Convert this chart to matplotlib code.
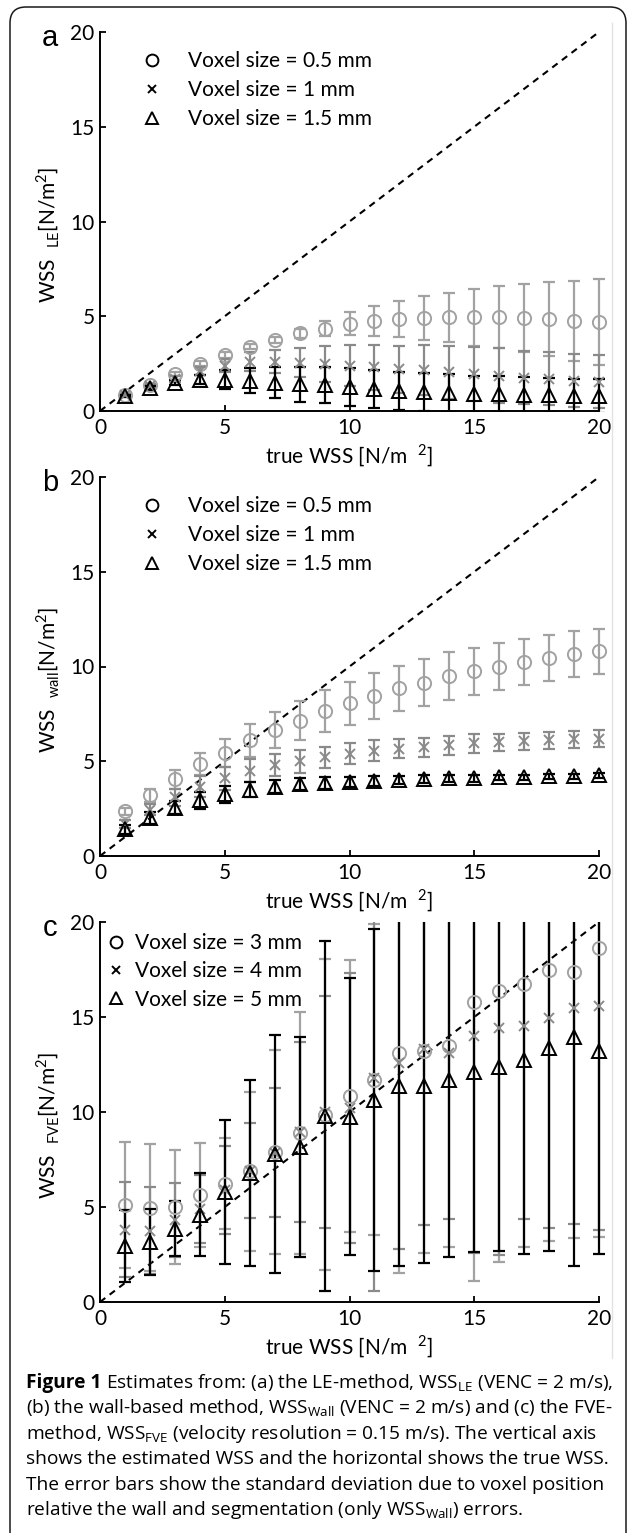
import matplotlib
matplotlib.use("Agg")
import matplotlib.pyplot as plt
from matplotlib.lines import Line2D
from matplotlib.patches import FancyBboxPatch, Rectangle
from matplotlib.transforms import IdentityTransform
import numpy as np

# ---------------- data ----------------
true_wss = list(range(1, 21))

# panel a: LE method
a_05 = [0.85, 1.35, 1.95, 2.5, 2.95, 3.4, 3.75, 4.1, 4.35, 4.6, 4.75, 4.85, 4.9, 4.95, 4.95, 4.95, 4.9, 4.85, 4.75, 4.7]
a_05_err = [0.1, 0.1, 0.1, 0.12, 0.15, 0.15, 0.18, 0.25, 0.4, 0.6, 0.8, 0.95, 1.15, 1.3, 1.5, 1.65, 1.8, 1.95, 2.1, 2.25]
a_10 = [0.85, 1.3, 1.7, 2.1, 2.4, 2.6, 2.6, 2.55, 2.5, 2.4, 2.3, 2.2, 2.15, 2.05, 1.95, 1.85, 1.75, 1.7, 1.6, 1.55]
a_10_err = [0.05, 0.1, 0.15, 0.2, 0.35, 0.5, 0.6, 0.75, 0.95, 1.07, 1.17, 1.25, 1.32, 1.4, 1.43, 1.45, 1.4, 1.4, 1.4, 1.4]
a_15 = [0.8, 1.2, 1.5, 1.65, 1.65, 1.6, 1.5, 1.4, 1.35, 1.25, 1.15, 1.05, 1.0, 0.95, 0.9, 0.9, 0.85, 0.85, 0.8, 0.8]
a_15_err = [0.05, 0.1, 0.15, 0.25, 0.5, 0.65, 0.8, 0.9, 0.95, 1.0, 1.0, 1.0, 1.0, 1.0, 0.95, 0.95, 0.95, 0.9, 0.9, 0.9]

# panel b: wall-based method
b_05 = [2.35, 3.2, 4.05, 4.85, 5.45, 6.1, 6.65, 7.15, 7.65, 8.05, 8.45, 8.85, 9.15, 9.5, 9.75, 10.0, 10.25, 10.45, 10.65, 10.8]
b_05_err = [0.2, 0.35, 0.5, 0.6, 0.75, 0.85, 0.95, 1.05, 1.1, 1.15, 1.2, 1.2, 1.25, 1.25, 1.25, 1.25, 1.2, 1.2, 1.2, 1.2]
b_10 = [1.7, 2.45, 3.1, 3.65, 4.1, 4.5, 4.8, 5.0, 5.2, 5.4, 5.55, 5.65, 5.75, 5.85, 5.95, 6.0, 6.05, 6.1, 6.15, 6.2]
b_10_err = [0.2, 0.3, 0.45, 0.55, 0.6, 0.6, 0.6, 0.6, 0.55, 0.55, 0.55, 0.5, 0.5, 0.5, 0.5, 0.45, 0.45, 0.45, 0.45, 0.45]
b_15 = [1.4, 2.0, 2.55, 2.95, 3.25, 3.5, 3.65, 3.8, 3.85, 3.9, 3.95, 4.0, 4.05, 4.1, 4.1, 4.15, 4.15, 4.2, 4.2, 4.25]
b_15_err = [0.25, 0.3, 0.35, 0.45, 0.45, 0.4, 0.35, 0.3, 0.3, 0.25, 0.25, 0.2, 0.2, 0.2, 0.2, 0.15, 0.15, 0.15, 0.15, 0.15]

# panel c: FVE method
c_3 = [5.1, 4.97, 5.02, 5.64, 6.22, 6.87, 7.9, 8.9, 9.86, 10.83, 11.71, 13.09, 13.2, 13.47, 15.8, 16.38, 16.73, 17.47, 17.35, 18.62]
c_3_err = [3.3, 3.35, 3.0, 2.73, 2.4, 4.2, 5.35, 6.35, 8.2, 7.15, 8.2, 11.55, 10.6, 10.57, 14.7, 14.27, 13.83, 14.27, 14.0, 15.19]
c_4 = [3.8, 3.75, 4.3, 4.9, 5.9, 6.9, 7.85, 8.95, 10.0, 10.2, 11.8, 12.6, 13.3, 13.1, 14.0, 14.44, 14.53, 14.94, 15.45, 15.59]
c_4_err = [2.5, 2.3, 1.95, 1.8, 2.3, 2.5, 3.4, 4.75, 6.1, 7.1, 11.2, 9.8, 9.25, 8.73, 11.4, 11.97, 10.18, 11.07, 11.35, 11.8]
c_5 = [2.95, 3.15, 3.85, 4.6, 5.8, 6.8, 7.8, 8.15, 9.8, 9.75, 10.65, 11.36, 11.36, 11.68, 12.1, 12.38, 12.74, 13.39, 13.97, 13.21]
c_5_err = [1.9, 1.72, 1.45, 2.2, 3.8, 4.9, 6.25, 5.8, 9.2, 7.3, 9.0, 9.46, 9.33, 9.3, 9.46, 9.68, 10.2, 10.7, 12.1, 10.7]

legend_ab = ["Voxel size = 0.5 mm", "Voxel size = 1 mm", "Voxel size = 1.5 mm"]
legend_c = ["Voxel size = 3 mm", "Voxel size = 4 mm", "Voxel size = 5 mm"]
ticks = [0, 5, 10, 15, 20]
ylabels = [r"WSS  $_{\mathregular{LE}}$[N/m$^{\mathregular{2}}$]",
           r"WSS  $_{\mathregular{wall}}$[N/m$^{\mathregular{2}}$]",
           r"WSS  $_{\mathregular{FVE}}$[N/m$^{\mathregular{2}}$]"]
xlabel = r"true WSS [N/m  $^{\mathregular{2}}$]"
panel_letters = ["a", "b", "c"]

# ---------------- layout ----------------
W, H = 627, 1533
DPI = 100
plt.rcParams['font.family'] = ['Lato', 'DejaVu Sans']
plt.rcParams['mathtext.fontset'] = 'custom'
plt.rcParams['mathtext.rm'] = 'Lato'
fig = plt.figure(figsize=(W / DPI, H / DPI), dpi=DPI)

def rect(left, top, right, bottom):
    return [left / W, 1 - bottom / H, (right - left) / W, (bottom - top) / H]

panels = [(32, 411), (477, 856), (922, 1302)]
FS = 15
C_LIGHT = '#a2a2a2'
C_MID = '#8a8a8a'

series = [
    [(a_05, a_05_err), (a_10, a_10_err), (a_15, a_15_err)],
    [(b_05, b_05_err), (b_10, b_10_err), (b_15, b_15_err)],
    [(c_3, c_3_err), (c_4, c_4_err), (c_5, c_5_err)],
]
styles = [
    dict(marker='o', color=C_LIGHT, ms=9.5, mfc='none'),
    dict(marker='x', color=C_MID, ms=6.5, mfc='none'),
    dict(marker='^', color='black', ms=9.5, mfc='none'),
]

for i, (top, bottom) in enumerate(panels):
    ax = fig.add_axes(rect(100, top, 599, bottom))
    ax.set_xlim(0, 20)
    ax.set_ylim(0, 20)
    ax.plot([0, 20], [0, 20], ls=(0, (3.2, 2.6)), color='black', lw=1.5, zorder=1)
    clip = Rectangle((-0.05, 0), 1.1, 1.0, transform=ax.transAxes, visible=False)
    ax.add_patch(clip)
    for (vals, errs), st in zip(series[i], styles):
        cont = ax.errorbar(true_wss, vals, yerr=errs, fmt='none',
                           ecolor=st['color'], elinewidth=1.6, capsize=4.5, capthick=1.6,
                           zorder=2)
        for art in list(cont.lines[1]) + list(cont.lines[2]):
            art.set_clip_path(clip)
        ln, = ax.plot(true_wss, vals, ls='none', marker=st['marker'], ms=st['ms'],
                      mfc='none', mec=st['color'], mew=1.4, zorder=3)
        ln.set_clip_on(False)
    for s in ['top', 'right']:
        ax.spines[s].set_visible(False)
    for s in ['left', 'bottom']:
        ax.spines[s].set_linewidth(1.4)
    ax.set_xticks(ticks)
    ax.set_yticks(ticks)
    ax.tick_params(direction='in', length=4, width=1.3, labelsize=FS)
    ax.tick_params(axis='x', pad=5)
    ax.tick_params(axis='y', pad=4)
    ax.set_xlabel(xlabel, fontsize=FS)
    ax.xaxis.set_label_coords(0.5, -45 / (bottom - top), transform=ax.transAxes)
    ax.xaxis.label.set_va('center')
    ax.set_ylabel(ylabels[i], fontsize=FS, va='center')
    ax.yaxis.set_label_coords(-52 / 499, 0.465)
    fig.text(50 / W, 1 - (top + 6) / H, panel_letters[i], fontsize=21,
             family='Liberation Sans', ha='center', va='center')

    handles = [Line2D([], [], ls='none', marker=st['marker'], ms=st['ms'] - 1,
                      mfc='none', mec='black', mew=1.4) for st in styles]
    if i < 2:
        leg = ax.legend(handles, legend_ab, loc='upper left',
                        bbox_to_anchor=(42 / 499, 1 - 19 / 379), frameon=False,
                        fontsize=FS, borderpad=0, borderaxespad=0, handlelength=1.0,
                        handletextpad=1.23, labelspacing=0.43)
    else:
        leg = ax.legend(handles, legend_c, loc='upper left',
                        bbox_to_anchor=(6 / 499, 1 - 11 / 379), frameon=False,
                        fontsize=FS, borderpad=0, borderaxespad=0, handlelength=1.0,
                        handletextpad=0.37, labelspacing=0.4)

# faint right edge of embedded image
fig.add_artist(Line2D([612, 612], [H - 23, H - 1358], transform=IdentityTransform(),
                      color='#e2e2e2', lw=1))

# outer rounded border
border = FancyBboxPatch((10, -30), 616, H - 7 + 30, boxstyle="round,pad=0,rounding_size=16",
                        transform=IdentityTransform(), fill=False, edgecolor='#1a1a1a', lw=1.1)
fig.add_artist(border)

# ---------------- caption ----------------
cap_fs = 13.75
cap_family = ['Open Sans', 'DejaVu Sans']
lines = [
    r"Estimates from: (a) the LE-method, WSS$_{\mathregular{LE}}$ (VENC = 2 m/s),",
    r"(b) the wall-based method, WSS$_{\mathregular{Wall}}$ (VENC = 2 m/s) and (c) the FVE-",
    r"method, WSS$_{\mathregular{FVE}}$ (velocity resolution = 0.15 m/s). The vertical axis",
    r"shows the estimated WSS and the horizontal shows the true WSS.",
    r"The error bars show the standard deviation due to voxel position",
    r"relative the wall and segmentation (only WSS$_{\mathregular{Wall}}$) errors.",
]
plt.rcParams['mathtext.rm'] = 'Open Sans'
y0 = 1383
dy = 25.4
renderer = fig.canvas.get_renderer()
bold = fig.text(26 / W, 1 - y0 / H, "Figure 1", fontsize=cap_fs, family=cap_family,
                weight='bold', ha='left', va='center')
bb = bold.get_window_extent(renderer=renderer)
for k, txt in enumerate(lines):
    x = (bb.x1 + 5) / W if k == 0 else 26 / W
    fig.text(x, 1 - (y0 + k * dy) / H, txt, fontsize=cap_fs, family=cap_family,
             ha='left', va='center')

fig.savefig("out.png", dpi=DPI)
